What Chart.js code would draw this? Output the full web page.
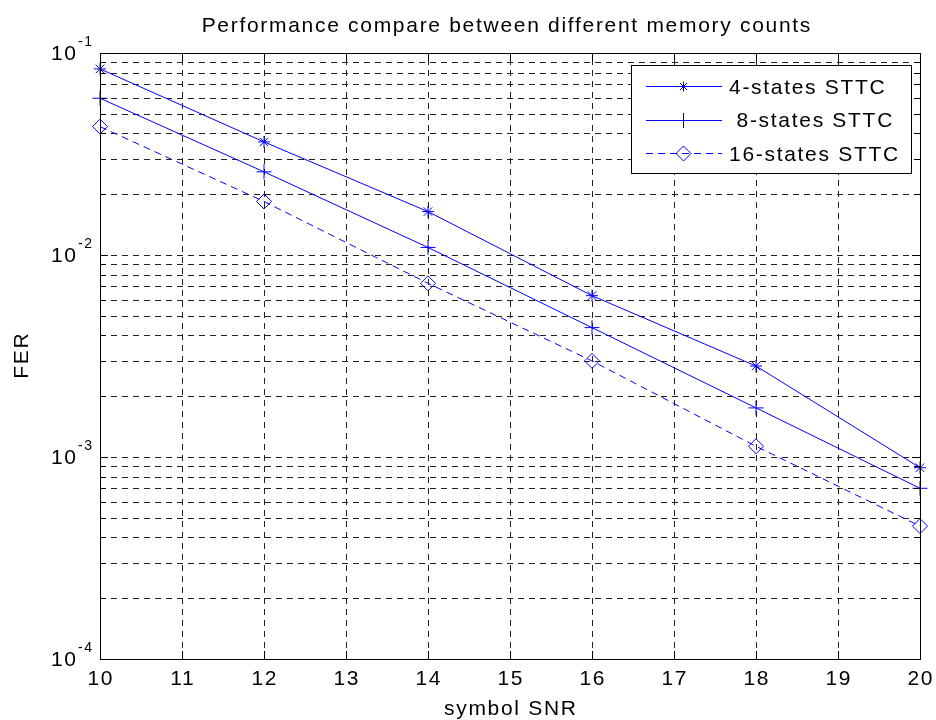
<!DOCTYPE html>
<html>
<head>
<meta charset="utf-8">
<title>Performance compare between different memory counts</title>
<script src="https://cdn.jsdelivr.net/npm/chart.js@4.4.1/dist/chart.umd.min.js"></script>
<style>
  html, body { margin: 0; padding: 0; background: #fff; }
  #chart { display: block; }
</style>
</head>
<body>
<canvas id="chart" width="936" height="720"></canvas>
<script>
// Values (FER vs symbol SNR)
const snr = [10, 12, 14, 16, 18, 20];
const fer4 = [0.0834, 0.0363, 0.0164, 0.00629, 0.00282, 0.000885];
const fer8 = [0.0597, 0.0258, 0.0109, 0.00437, 0.00175, 0.00070];
const fer16 = [0.0432, 0.0184, 0.00724, 0.00299, 0.00113, 0.000455];

const seriesNames = ['4-states STTC', ' 8-states STTC', '16-states STTC'];
const xTicks = [10, 11, 12, 13, 14, 15, 16, 17, 18, 19, 20];
const yDecades = [-4, -3, -2, -1];
const yMinor = [2, 3, 4, 5, 6, 7, 8, 9];

const titleText = 'Performance compare between different memory counts';
const xLabel = 'symbol SNR';
const yLabel = 'FER';

const FONT = '"Liberation Sans", Arial, sans-serif';
const BLUE = '#0000ff';
const SPACING = 1.7;

// Set font + MATLAB-ish wide letter spacing
function setFont(ctx, size) {
  ctx.font = size + 'px ' + FONT;
  if ('letterSpacing' in ctx) ctx.letterSpacing = SPACING + 'px';
}

function textW(ctx, s) {
  let w = ctx.measureText(s).width;
  if ('letterSpacing' in ctx) w -= SPACING;
  return w;
}

// Draw text, anchor is 'left' | 'center' | 'right'
function drawText(ctx, s, x, y, anchor) {
  const w = textW(ctx, s);
  let left = x;
  if (anchor === 'center') left = x - w / 2;
  if (anchor === 'right') left = x - w;
  ctx.textAlign = 'left';
  ctx.fillText(s, left, y);
}

// Legend markers (same look as the dataset point styles)
function drawMarker(ctx, style, x, y, r) {
  ctx.beginPath();
  if (style === 'star' || style === 'cross') {
    ctx.moveTo(x - r, y); ctx.lineTo(x + r, y);
    ctx.moveTo(x, y - r); ctx.lineTo(x, y + r);
  }
  if (style === 'star') {
    const d = r * Math.SQRT1_2;
    ctx.moveTo(x - d, y - d); ctx.lineTo(x + d, y + d);
    ctx.moveTo(x - d, y + d); ctx.lineTo(x + d, y - d);
  }
  if (style === 'rectRot') {
    ctx.moveTo(x, y - r); ctx.lineTo(x + r, y);
    ctx.lineTo(x, y + r); ctx.lineTo(x - r, y);
    ctx.closePath();
  }
  ctx.stroke();
}

const crisp = v => Math.round(v) + 0.5;

const matlabAxes = {
  id: 'matlabAxes',
  beforeDatasetsDraw(chart) {
    const { ctx, chartArea: a, scales: { x, y } } = chart;
    ctx.save();
    ctx.strokeStyle = '#222';
    ctx.lineWidth = 1;
    ctx.setLineDash([6, 5]);
    // vertical grid
    xTicks.forEach(t => {
      const px = crisp(x.getPixelForValue(t));
      if (px < a.left + 1 || px > a.right - 1) return;
      ctx.beginPath();
      ctx.moveTo(px, a.bottom);
      ctx.lineTo(px, a.top);
      ctx.stroke();
    });
    // horizontal grid (log minor + major)
    yDecades.forEach(d => {
      [1].concat(yMinor).forEach(m => {
        const py = crisp(y.getPixelForValue(m * Math.pow(10, d)));
        if (py < a.top + 1 || py > a.bottom - 1) return;
        ctx.beginPath();
        ctx.moveTo(a.left, py);
        ctx.lineTo(a.right, py);
        ctx.stroke();
      });
    });
    ctx.restore();
  },
  afterDatasetsDraw(chart) {
    const { ctx, chartArea: a, scales: { x, y } } = chart;
    ctx.save();
    ctx.strokeStyle = '#000';
    ctx.fillStyle = '#000';
    ctx.lineWidth = 1;
    ctx.setLineDash([]);

    // axes box
    ctx.strokeRect(crisp(a.left), crisp(a.top), Math.round(a.right - a.left), Math.round(a.bottom - a.top));

    // x ticks, inward at bottom and top
    ctx.beginPath();
    xTicks.forEach(t => {
      const px = crisp(x.getPixelForValue(t));
      ctx.moveTo(px, a.bottom); ctx.lineTo(px, a.bottom - 8);
      ctx.moveTo(px, a.top); ctx.lineTo(px, a.top + 8);
    });
    // y ticks, inward at left and right
    yDecades.forEach(d => {
      [1].concat(yMinor).forEach(m => {
        const v = m * Math.pow(10, d);
        if (v > y.max) return;
        const py = crisp(y.getPixelForValue(v));
        const len = m === 1 ? 8 : 6;
        ctx.moveTo(a.left, py); ctx.lineTo(a.left + len, py);
        ctx.moveTo(a.right, py); ctx.lineTo(a.right - len, py);
      });
    });
    ctx.stroke();

    // x tick labels
    setFont(ctx, 21);
    ctx.textBaseline = 'alphabetic';
    xTicks.forEach(t => {
      drawText(ctx, String(t), x.getPixelForValue(t), a.bottom + 26, 'center');
    });

    // y tick labels: 10 with raised exponent
    yDecades.forEach(d => {
      const py = y.getPixelForValue(Math.pow(10, d));
      setFont(ctx, 21);
      drawText(ctx, '10', a.left - 24, py + 6.5, 'right');
      setFont(ctx, 14);
      drawText(ctx, String(d), a.left - 22, py - 7, 'left');
    });

    // axis titles
    setFont(ctx, 21);
    drawText(ctx, xLabel, (a.left + a.right) / 2, 715, 'center');
    ctx.save();
    ctx.translate(28, (a.top + a.bottom) / 2);
    ctx.rotate(-Math.PI / 2);
    drawText(ctx, yLabel, 0, 0, 'center');
    ctx.restore();

    // chart title
    drawText(ctx, titleText, (a.left + a.right) / 2 - 4, 32, 'center');

    // legend box
    const lx = 631, ly = 65, lw = 280, lh = 108;
    ctx.fillStyle = '#fff';
    ctx.fillRect(lx, ly, lw, lh);
    ctx.strokeStyle = '#000';
    ctx.strokeRect(lx + 0.5, ly + 0.5, lw, lh);

    chart.data.datasets.forEach((ds, i) => {
      const ry = 86 + i * 33.7;
      ctx.strokeStyle = ds.borderColor;
      ctx.lineWidth = 1;
      ctx.setLineDash(ds.borderDash || []);
      ctx.beginPath();
      ctx.moveTo(646, crisp(ry));
      ctx.lineTo(722, crisp(ry));
      ctx.stroke();
      ctx.setLineDash([]);
      drawMarker(ctx, ds.pointStyle, 683.5, crisp(ry), ds.pointStyle === 'star' ? 5 : ds.pointRadius);
      ctx.fillStyle = '#000';
      setFont(ctx, 21);
      drawText(ctx, ds.label, 729, ry + 7.5, 'left');
    });

    ctx.restore();
  }
};

const toPoints = vals => snr.map((s, i) => ({ x: s, y: vals[i] }));

const baseDataset = {
  borderColor: BLUE,
  borderWidth: 1,
  pointBorderColor: BLUE,
  pointBackgroundColor: 'rgba(0,0,0,0)',
  pointBorderWidth: 1,
  pointHoverRadius: 0,
  tension: 0,
  fill: false,
  clip: false
};

new Chart(document.getElementById('chart'), {
  type: 'line',
  data: {
    datasets: [
      Object.assign({}, baseDataset, { label: seriesNames[0], data: toPoints(fer4), pointStyle: 'star', pointRadius: 6 }),
      Object.assign({}, baseDataset, { label: seriesNames[1], data: toPoints(fer8), pointStyle: 'cross', pointRadius: 7.5 }),
      Object.assign({}, baseDataset, { label: seriesNames[2], data: toPoints(fer16), pointStyle: 'rectRot', pointRadius: 7.5, borderDash: [7, 5] })
    ]
  },
  options: {
    responsive: false,
    animation: false,
    events: [],
    layout: { padding: { left: 100, right: 16, top: 53, bottom: 61 } },
    plugins: {
      legend: { display: false },
      title: { display: false },
      tooltip: { enabled: false }
    },
    scales: {
      x: { type: 'linear', min: 10, max: 20, display: false },
      y: { type: 'logarithmic', min: 1e-4, max: 1e-1, display: false }
    }
  },
  plugins: [matlabAxes]
});
</script>
</body>
</html>
